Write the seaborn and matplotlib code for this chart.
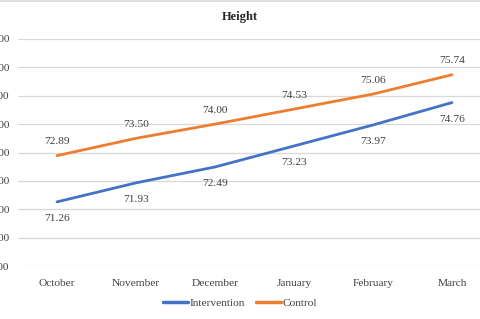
import matplotlib
matplotlib.use("Agg")
import matplotlib.pyplot as plt
import seaborn as sns
import pandas as pd
from matplotlib.lines import Line2D

months = ["October", "November", "December", "January", "February", "March"]
intervention = [71.26, 71.93, 72.49, 73.23, 73.97, 74.76]
control = [72.89, 73.50, 74.00, 74.53, 75.06, 75.74]
yticks = [69, 70, 71, 72, 73, 74, 75, 76, 77]

df = pd.DataFrame({
    "month": months * 2,
    "value": intervention + control,
    "group": ["Intervention"] * 6 + ["Control"] * 6,
})

sns.set_style("white")
plt.rcParams["font.family"] = ["Liberation Serif", "DejaVu Serif"]
fs = 8.2

fig = plt.figure(figsize=(4.8, 3.19), dpi=100)
# plot area is cropped on both sides in the reference
ax = fig.add_axes([17.5 / 480, (319 - 266) / 319, 474 / 480, 227 / 319])

sns.lineplot(data=df, x="month", y="value", hue="group",
             palette={"Intervention": "#4472C4", "Control": "#ED7D31"},
             linewidth=2.0, ax=ax, legend=False, sort=False)

ax.set_xlim(-0.5, 5.5)
ax.set_ylim(69, 77)
ax.set_yticks(yticks)
ax.set_yticklabels([f"{v:.2f}" for v in yticks], fontsize=fs, color="#404040")
ax.tick_params(axis="y", length=0, pad=6)
ax.tick_params(axis="x", length=0, pad=9, labelsize=fs, labelcolor="#404040")
ax.grid(axis="y", color="#D9D9D9", linewidth=0.9)
for s in ax.spines.values():
    s.set_visible(False)
ax.set_xlabel("")
ax.set_ylabel("")

for i, v in enumerate(intervention):
    ax.annotate(f"{v:.2f}", (i, v), xytext=(0, -12), textcoords="offset points",
                ha="center", va="center", fontsize=fs, color="#404040")
for i, v in enumerate(control):
    ax.annotate(f"{v:.2f}", (i, v), xytext=(0, 10), textcoords="offset points",
                ha="center", va="center", fontsize=fs, color="#404040")

fig.text(0.5, 1 - 17 / 319, "Height", ha="center", va="center",
         fontsize=9, fontweight="bold", color="#262626")

handles = [Line2D([], [], color="#4472C4", linewidth=2.5),
           Line2D([], [], color="#ED7D31", linewidth=2.5)]
fig.legend(handles, ["Intervention", "Control"], loc="center",
           bbox_to_anchor=(0.5, 1 - 303 / 319), ncol=2, frameon=False,
           fontsize=fs, handlelength=2.2, handletextpad=0.15, columnspacing=1.0,
           labelcolor="#404040")

fig.add_artist(Line2D([0, 1], [0.998, 0.998], transform=fig.transFigure,
                      color="#D9D9D9", linewidth=1.2))

fig.savefig("out.png", dpi=100)
